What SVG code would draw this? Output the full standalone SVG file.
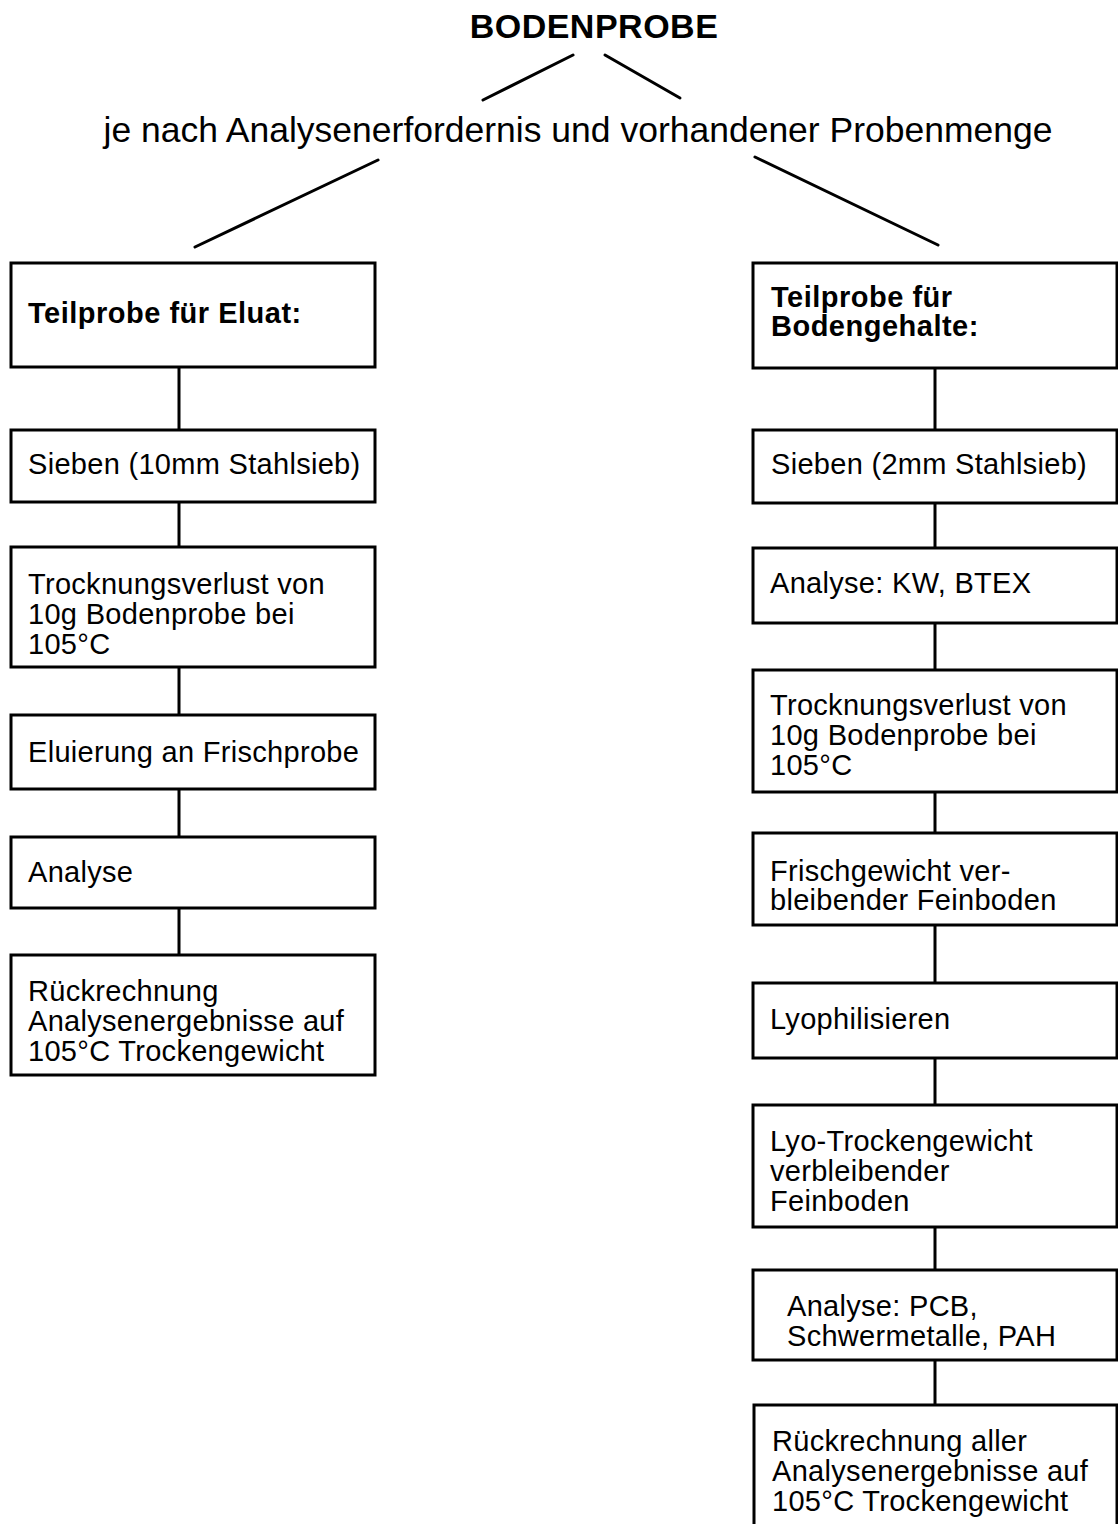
<svg xmlns="http://www.w3.org/2000/svg" width="1118" height="1524" viewBox="0 0 1118 1524">
<style>
.box{fill:#fff;stroke:#000;stroke-width:3}
.c line{stroke:#000;stroke-width:3;stroke-linecap:round}
text{font-family:"Liberation Sans",Arial,sans-serif;fill:#000}
.t{font-size:29px;letter-spacing:0.3px}
.b{font-size:29px;font-weight:bold;letter-spacing:0.5px}
</style>
<rect width="1118" height="1524" fill="#fff"/>
<g id="title">
<text x="594" y="38" text-anchor="middle" style="font-size:34px;font-weight:bold;letter-spacing:0.5px">BODENPROBE</text>
</g>
<g id="subtitle">
<text x="578" y="142" text-anchor="middle" style="font-size:35px" textLength="949" lengthAdjust="spacingAndGlyphs">je nach Analysenerfordernis und vorhandener Probenmenge</text>
</g>
<g class="c" id="connectors">
<line x1="483" y1="100" x2="573" y2="55"/>
<line x1="605" y1="55" x2="680" y2="98"/>
<line x1="378" y1="160" x2="195" y2="247"/>
<line x1="755" y1="157" x2="938" y2="245"/>
<line x1="179" y1="367" x2="179" y2="430"/>
<line x1="179" y1="502" x2="179" y2="547"/>
<line x1="179" y1="667" x2="179" y2="715"/>
<line x1="179" y1="789" x2="179" y2="837"/>
<line x1="179" y1="908" x2="179" y2="955"/>
<line x1="935" y1="368" x2="935" y2="430"/>
<line x1="935" y1="503" x2="935" y2="548"/>
<line x1="935" y1="623" x2="935" y2="670"/>
<line x1="935" y1="792" x2="935" y2="833"/>
<line x1="935" y1="925" x2="935" y2="983"/>
<line x1="935" y1="1058" x2="935" y2="1105"/>
<line x1="935" y1="1227" x2="935" y2="1270"/>
<line x1="935" y1="1360" x2="935" y2="1405"/>
</g>
<g id="L1"><rect class="box" x="11" y="263" width="364" height="104"/><text class="b" x="28" y="323">Teilprobe für Eluat:</text></g>
<g id="L2"><rect class="box" x="11" y="430" width="364" height="72"/><text class="t" x="28" y="474">Sieben (10mm Stahlsieb)</text></g>
<g id="L3"><rect class="box" x="11" y="547" width="364" height="120"/><text class="t" x="28" y="594">Trocknungsverlust von</text><text class="t" x="28" y="624">10g Bodenprobe bei</text><text class="t" x="28" y="654">105°C</text></g>
<g id="L4"><rect class="box" x="11" y="715" width="364" height="74"/><text class="t" x="28" y="762">Eluierung an Frischprobe</text></g>
<g id="L5"><rect class="box" x="11" y="837" width="364" height="71"/><text class="t" x="28" y="882">Analyse</text></g>
<g id="L6"><rect class="box" x="11" y="955" width="364" height="120"/><text class="t" x="28" y="1001">Rückrechnung</text><text class="t" x="28" y="1031">Analysenergebnisse auf</text><text class="t" x="28" y="1061">105°C Trockengewicht</text></g>
<g id="R1"><rect class="box" x="753" y="263" width="364" height="105"/><text class="b" x="771" y="307">Teilprobe für</text><text class="b" x="771" y="336">Bodengehalte:</text></g>
<g id="R2"><rect class="box" x="753" y="430" width="364" height="73"/><text class="t" x="771" y="474">Sieben (2mm Stahlsieb)</text></g>
<g id="R3"><rect class="box" x="753" y="548" width="364" height="75"/><text class="t" x="770" y="593">Analyse: KW, BTEX</text></g>
<g id="R4"><rect class="box" x="753" y="670" width="364" height="122"/><text class="t" x="770" y="715">Trocknungsverlust von</text><text class="t" x="770" y="745">10g Bodenprobe bei</text><text class="t" x="770" y="775">105°C</text></g>
<g id="R5"><rect class="box" x="753" y="833" width="364" height="92"/><text class="t" x="770" y="881">Frischgewicht ver-</text><text class="t" x="770" y="910">bleibender Feinboden</text></g>
<g id="R6"><rect class="box" x="753" y="983" width="364" height="75"/><text class="t" x="770" y="1029">Lyophilisieren</text></g>
<g id="R7"><rect class="box" x="753" y="1105" width="364" height="122"/><text class="t" x="770" y="1151">Lyo-Trockengewicht</text><text class="t" x="770" y="1181">verbleibender</text><text class="t" x="770" y="1211">Feinboden</text></g>
<g id="R8"><rect class="box" x="753" y="1270" width="364" height="90"/><text class="t" x="787" y="1316">Analyse: PCB,</text><text class="t" x="787" y="1346">Schwermetalle, PAH</text></g>
<g id="R9"><rect class="box" x="754" y="1405" width="363" height="125"/><text class="t" x="772" y="1451">Rückrechnung aller</text><text class="t" x="772" y="1481">Analysenergebnisse auf</text><text class="t" x="772" y="1511">105°C Trockengewicht</text></g>
</svg>
